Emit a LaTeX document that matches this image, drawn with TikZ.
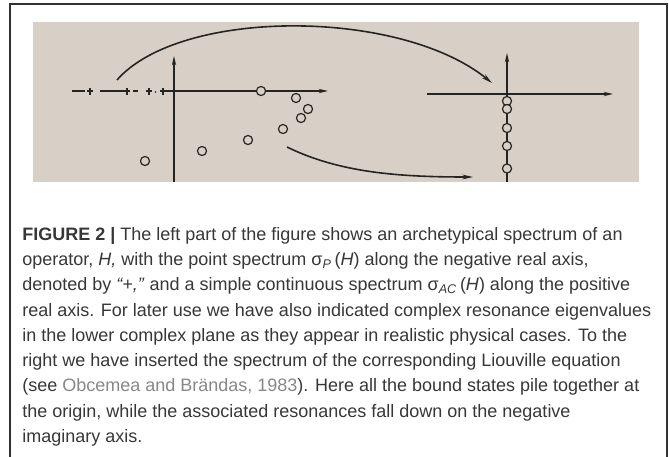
\documentclass[tikz,border=0pt]{standalone}
\usepackage{fontspec}
\setmainfont{Liberation Sans}
\usetikzlibrary{arrows.meta}
\definecolor{photo}{RGB}{216,208,198}
\definecolor{ink}{RGB}{38,36,34}
\definecolor{captext}{RGB}{55,55,55}
\definecolor{linkgray}{RGB}{135,135,135}

\begin{document}
\begin{tikzpicture}[x=0.75pt, y=-0.75pt,
    axis/.style={draw=ink, line width=1.1pt, -{Stealth[length=7pt, width=3.2pt]}},
    dashseg/.style={draw=ink, line width=1.2pt},
    eig/.style={circle, draw=ink, fill=photo, line width=0.9pt, minimum size=6.8pt, inner sep=0pt},
    mapto/.style={draw=ink, line width=1.2pt, -{Stealth[length=8pt, width=3.6pt]}},
    captionbox/.style={anchor=north west, inner sep=0pt, align=left, text=captext,
      font=\fontsize{13.5}{18.94}\selectfont}
  ]
    \useasboundingbox (0,0) rectangle (669,457);
    \draw[black!80, line width=1.1pt] (10,457) -- (10,4) -- (667,4) -- (667,457);
    \fill[photo] (33,22) rectangle (639,182);

    % spectrum of H
    \coordinate (hxs) at (160,91);
    \coordinate (hxe) at (328,91);
    \coordinate (hys) at (174,182);
    \coordinate (hye) at (174,56);
    \draw[axis] (hxs) -- (hxe);
    \draw[axis] (hys) -- (hye);
    \draw[dashseg] (72,91) -- (85,91) (87,91) -- (93,91) (100,91) -- (130,91)
      (133,91) -- (138,91) (146,91) -- (152,91);
    \draw[dashseg] (90,87.5) -- (90,94.5) (127,87.5) -- (127,94.5)
      (149,87.5) -- (149,94.5) (163,87.5) -- (163,94.5);
    \fill[ink] (155.5,92) circle (0.8);

    \node[eig] (h1) at (261,91) {};
    \node[eig] (h2) at (296,98) {};
    \node[eig] (h3) at (308,109) {};
    \node[eig] (h4) at (301,118) {};
    \node[eig] (h5) at (283,129) {};
    \node[eig] (h6) at (248,140) {};
    \node[eig] (h7) at (202,151) {};
    \node[eig] (h8) at (145,161) {};

    % Liouville spectrum
    \coordinate (lxs) at (427,94);
    \coordinate (lxe) at (613,94);
    \coordinate (lys) at (507,182);
    \coordinate (lye) at (507,53);
    \draw[axis] (lxs) -- (lxe);
    \draw[axis] (lys) -- (lye);
    \node[eig] (l1) at (507,101) {};
    \node[eig] (l2) at (507,109) {};
    \node[eig] (l3) at (507,128) {};
    \node[eig] (l4) at (507,146) {};
    \node[eig] (l5) at (507,168.5) {};

    % mappings
    \coordinate (boundfrom) at (117,80);
    \coordinate (boundto) at (492,83);
    \coordinate (resfrom) at (287,147);
    \coordinate (resto) at (473,177);
    \draw[mapto] (boundfrom) .. controls (180,8) and (400,8) .. (boundto);
    \draw[mapto] (resfrom) .. controls (340,173) and (400,177) .. (resto);

    \node[captionbox] (caption) at (22,227) {\textbf{FIGURE 2 |} The left part of the figure shows an archetypical spectrum of an\\
      operator, \textit{H,} with the point spectrum σ\textsubscript{\textit{P}}\,(\textit{H}) along the negative real axis,\\
      denoted by \textit{“+,”} and a simple continuous spectrum σ\textsubscript{\textit{AC}}\,(\textit{H}) along the positive\\
      real axis. For later use we have also indicated complex resonance eigenvalues\\
      in the lower complex plane as they appear in realistic physical cases. To the\\
      right we have inserted the spectrum of the corresponding Liouville equation\\
      (see {\color{linkgray}Obcemea and Brändas, 1983}). Here all the bound states pile together at\\
      the origin, while the associated resonances fall down on the negative\\
      imaginary axis.};
  \end{tikzpicture}
\end{document}
